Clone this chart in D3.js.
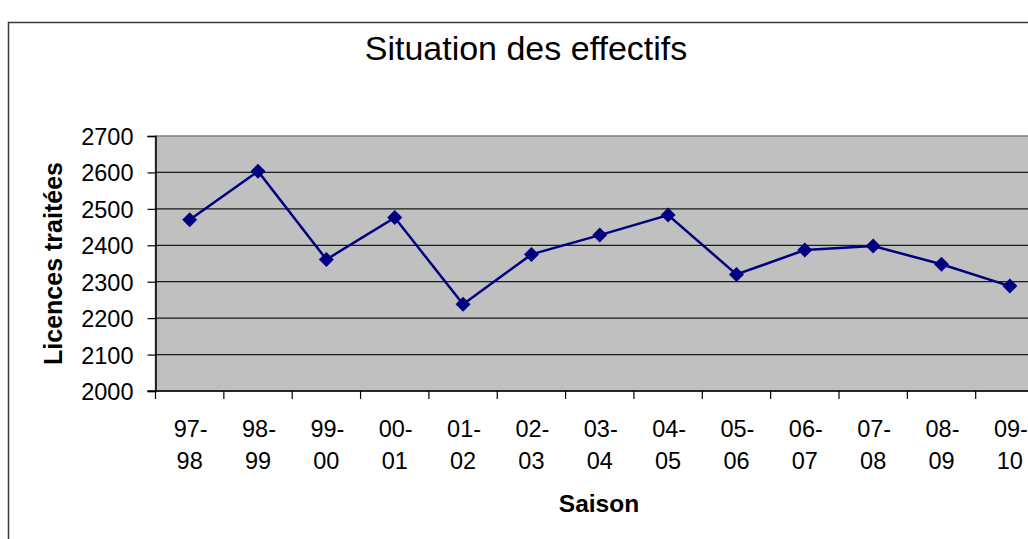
<!DOCTYPE html>
<html>
<head>
<meta charset="utf-8">
<script src="https://cdn.jsdelivr.net/npm/d3@7"></script>
<style>
  html, body { margin: 0; padding: 0; background: #fff; }
  svg { display: block; }
  text { font-family: "Liberation Sans", Arial, sans-serif; fill: #000; }
</style>
</head>
<body>
<svg id="chart" width="1028" height="539"></svg>
<script>
const seasons = ["97-98","98-99","99-00","00-01","01-02","02-03","03-04","04-05","05-06","06-07","07-08","08-09","09-10"];
const licences = [2470, 2603, 2361, 2476, 2238, 2375, 2428, 2483, 2320, 2387, 2398, 2348, 2288];
const yTicks = [2000, 2100, 2200, 2300, 2400, 2500, 2600, 2700];
const chartTitle = "Situation des effectifs";
const yTitle = "Licences traitées";
const xTitle = "Saison";

const svg = d3.select("#chart");

// chart area border (extends past the visible frame)
svg.append("rect")
  .attr("x", 8.5).attr("y", 22.5)
  .attr("width", 1100).attr("height", 600)
  .attr("fill", "#fff").attr("stroke", "#3a3a3a").attr("stroke-width", 1.5);

const plot = { left: 155.5, top: 136, bottom: 391, right: 155.5 + 13 * 68.35 };

const x = d3.scaleBand().domain(seasons).range([plot.left, plot.right]).paddingInner(0).paddingOuter(0);
const y = d3.scaleLinear().domain([2000, 2700]).range([plot.bottom, plot.top]);

// plot background
svg.append("rect")
  .attr("x", plot.left).attr("y", plot.top)
  .attr("width", plot.right - plot.left).attr("height", plot.bottom - plot.top)
  .attr("fill", "#c0c0c0").attr("stroke", "#808080").attr("stroke-width", 1.5);

// gridlines
svg.append("g").selectAll("line")
  .data(yTicks.filter(d => d > 2000 && d < 2700))
  .join("line")
  .attr("x1", plot.left).attr("x2", plot.right)
  .attr("y1", d => y(d)).attr("y2", d => y(d))
  .attr("stroke", "#1a1a1a").attr("stroke-width", 1.2);

// Y axis
const yAxis = d3.axisLeft(y).tickValues(yTicks).tickSize(8).tickFormat(d3.format("d"));
const gy = svg.append("g").attr("transform", `translate(${plot.left},0)`).call(yAxis)
  .attr("font-size", null).attr("font-family", null);
gy.select(".domain").attr("stroke", "#000").attr("stroke-width", 1.5);
gy.selectAll(".tick line").attr("stroke", "#000").attr("stroke-width", 1.2);
gy.selectAll(".tick text")
  .attr("x", -22).attr("dy", "0.36em")
  .style("font-size", "23.5px").attr("fill", "#000");

// X axis: ticks at band boundaries
const bounds = seasons.map(s => x(s)).concat([plot.right]);
svg.append("line")
  .attr("x1", plot.left - 8).attr("x2", plot.right)
  .attr("y1", plot.bottom).attr("y2", plot.bottom)
  .attr("stroke", "#000").attr("stroke-width", 1.5);
svg.append("g").selectAll("line").data(bounds).join("line")
  .attr("x1", d => d).attr("x2", d => d)
  .attr("y1", plot.bottom).attr("y2", plot.bottom + 8)
  .attr("stroke", "#000").attr("stroke-width", 1.2);

// X labels (two lines)
const xl = svg.append("g").selectAll("text").data(seasons).join("text")
  .attr("text-anchor", "middle")
  .style("font-size", "23.5px");
xl.append("tspan")
  .attr("x", d => x(d) + x.bandwidth() / 2 + 1)
  .attr("y", 437)
  .text(d => d.split("-")[0] + "-");
xl.append("tspan")
  .attr("x", d => x(d) + x.bandwidth() / 2)
  .attr("y", 468.5)
  .text(d => d.split("-")[1]);

// line
const line = d3.line().x((d, i) => x(seasons[i]) + x.bandwidth() / 2).y(d => y(d));
svg.append("path").datum(licences)
  .attr("d", line).attr("fill", "none")
  .attr("stroke", "#000080").attr("stroke-width", 2.5);

// diamond markers
const r = 7.5;
svg.append("g").selectAll("path").data(licences).join("path")
  .attr("d", (d, i) => {
    const cx = x(seasons[i]) + x.bandwidth() / 2, cy = y(d);
    return `M${cx},${cy - r}L${cx + r},${cy}L${cx},${cy + r}L${cx - r},${cy}Z`;
  })
  .attr("fill", "#000080");

// titles
svg.append("text").attr("x", 526).attr("y", 60).attr("text-anchor", "middle")
  .style("font-size", "34px").text(chartTitle);

svg.append("text").attr("transform", "translate(62,263.5) rotate(-90)")
  .attr("text-anchor", "middle").style("font-size", "25px").style("font-weight", "bold")
  .text(yTitle);

svg.append("text").attr("x", 599).attr("y", 512).attr("text-anchor", "middle")
  .style("font-size", "24.5px").style("font-weight", "bold").text(xTitle);
</script>
</body>
</html>
